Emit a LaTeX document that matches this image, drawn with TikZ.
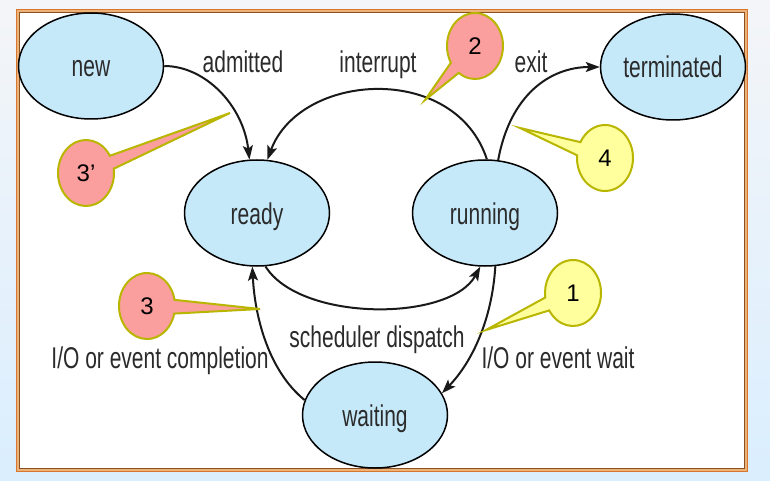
\documentclass[tikz,border=0pt]{standalone}
\usepackage{fontspec}
\setmainfont{Liberation Sans}
\newfontfamily\narrowfont[FakeStretch=0.7]{Liberation Sans}
\usetikzlibrary{shapes.geometric,shapes.callouts,arrows.meta}
\definecolor{bgtop}{HTML}{F4F5F8}
\definecolor{bgbottom}{HTML}{DAEEFE}
\definecolor{frameorange}{HTML}{D8762C}
\definecolor{framemid}{HTML}{EDB27A}
\definecolor{framedark}{HTML}{8A5020}
\definecolor{stateblue}{HTML}{C6E9FA}
\definecolor{labelgray}{HTML}{2B2B2B}
\definecolor{notepink}{HTML}{FA9E9E}
\definecolor{noteyellow}{HTML}{FFFF9E}
\definecolor{noteborder}{HTML}{B9B600}
\begin{document}
\begin{tikzpicture}[x=1pt,y=-1pt,
  state/.style={ellipse,draw=black,line width=1.5pt,fill=stateblue,
    minimum width=145pt,minimum height=106pt,inner sep=0pt,
    text height=22pt,text depth=0pt,
    font=\narrowfont\fontsize{30}{32}\selectfont,text=labelgray},
  lbl/.style={anchor=base,inner sep=0pt,
    font=\narrowfont\fontsize{30}{32}\selectfont,text=labelgray},
  flow/.style={line width=2pt,draw=black!90,
    -{Stealth[length=14pt,width=10pt,inset=3pt]}},
  note/.style={ellipse callout,draw=noteborder,line width=2pt,
    minimum width=56pt,minimum height=66pt,inner sep=0pt,
    callout pointer arc=24,line join=miter,
    font=\fontsize{24}{26}\selectfont,text=black},
  pinknote/.style={note,fill=notepink},
  yellownote/.style={note,fill=noteyellow}]

\useasboundingbox (0,0) rectangle (770,481);
\shade[top color=bgtop,bottom color=bgbottom] (0,0) rectangle (770,481);

% frame
\fill[white] (16,9) rectangle (748,472);
\draw[framemid,line width=3pt] (17.5,10.5) rectangle (746.5,470.5);
\draw[frameorange,line width=1.2pt] (16.6,9.6) rectangle (747.4,471.4);
\draw[framedark,line width=0.8pt] (19.4,12.4) rectangle (744.6,468.6);

% states
\node[state] (new) at (91,66) {new};
\node[state] (terminated) at (673,67) {terminated};
\node[state] (ready) at (257,213) {ready};
\node[state] (running) at (485,213) {running};
\node[state] (waiting) at (375,415) {waiting};

% labels
\node[lbl] (ladm) at (243,73) {admitted};
\node[lbl] (lint) at (378,73) {interrupt};
\node[lbl] (lexit) at (531,73) {exit};
\node[lbl] (lsched) at (377,347) {scheduler dispatch};
\node[lbl] (lcomp) at (160,368) {I/O or event completion};
\node[lbl] (lwait) at (558,368) {I/O or event wait};

% transitions
\draw[flow] (new.east) .. controls (205,66) and (243,105) .. (ready.98);
\draw[flow] (running.88) .. controls (455,62) and (300,72) .. (ready.79);
\draw[flow] (running.76) .. controls (510,95) and (550,67) .. (terminated.west);
\draw[flow] (ready.279) .. controls (300,322) and (450,322) .. (running.265);
\draw[flow] (running.281) .. controls (492,320) and (472,362) .. (waiting.18);
\draw[flow] (waiting.168) .. controls (270,372) and (255,320) .. (ready.265);

% callouts
\node[pinknote,callout absolute pointer={(425,100)}] (n2) at (475,46) {2};
\node[pinknote,callout absolute pointer={(230,113)}] (n3p) at (86,173) {3’};
\node[pinknote,callout absolute pointer={(260,309)}] (n3) at (147,306) {3};
\node[yellownote,callout absolute pointer={(486,330)}] (n1) at (573,293) {1};
\node[yellownote,callout absolute pointer={(520,128)}] (n4) at (605,158) {4};
\end{tikzpicture}
\end{document}
